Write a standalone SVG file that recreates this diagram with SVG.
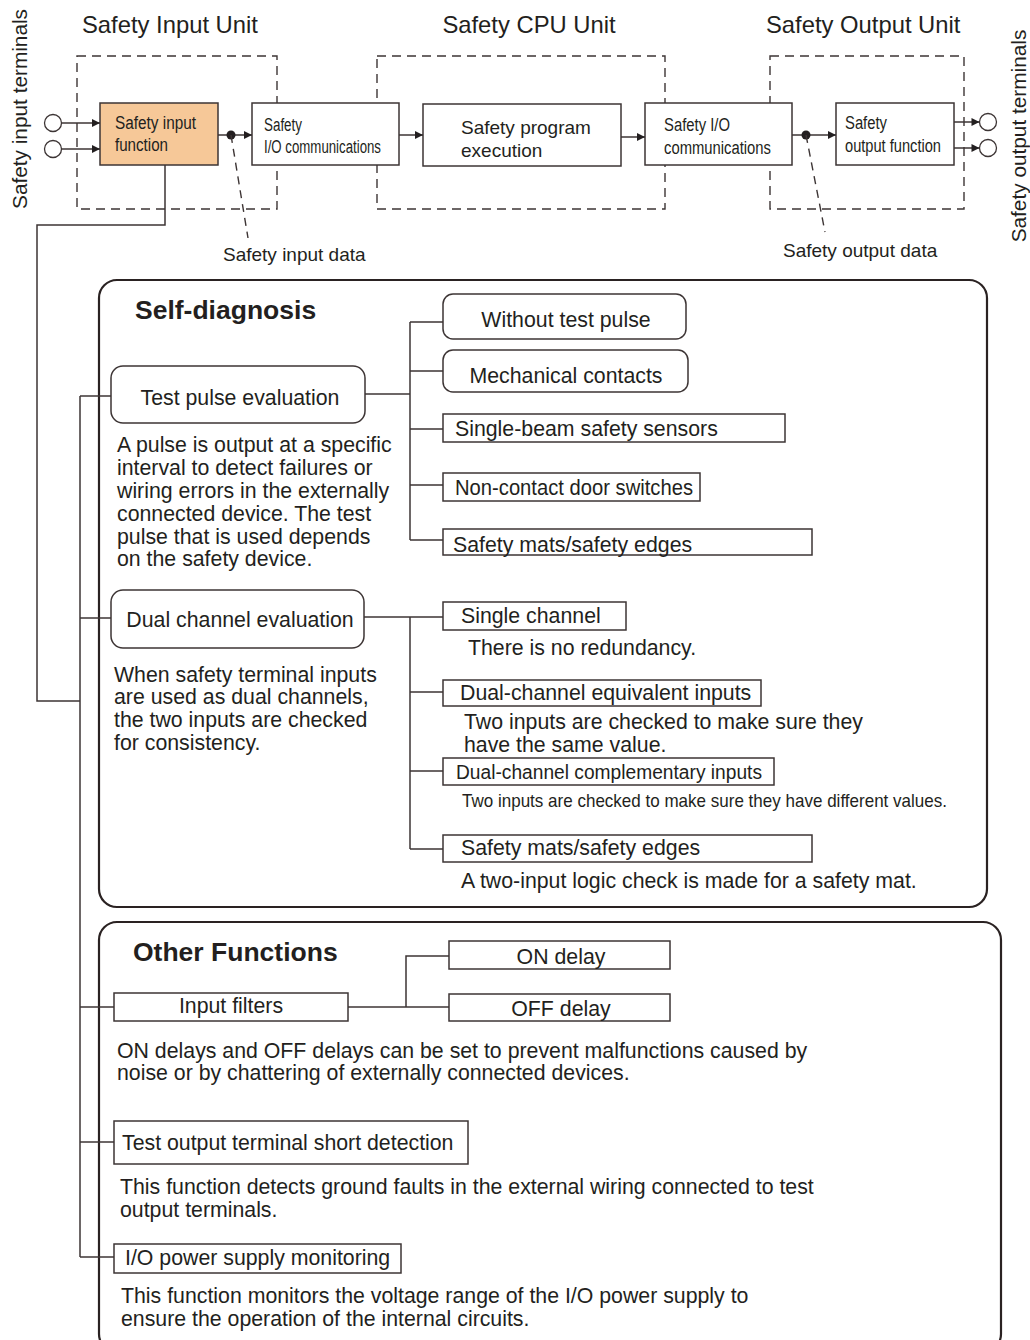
<svg xmlns="http://www.w3.org/2000/svg" width="1030" height="1340" viewBox="0 0 1030 1340">
<style>
text{font-family:"Liberation Sans",Arial,sans-serif;fill:#231f20}
.t21{font-size:21.3px}
.t19{font-size:19px}
.vt{font-size:20.8px}
.title{font-size:23.8px}
.bold{font-size:26.5px;font-weight:bold}
.nar{font-family:"Liberation Sans Narrow","Liberation Sans",sans-serif;font-size:18px}
.mid{text-anchor:middle}
.box{fill:#fff;stroke:#3d3535;stroke-width:1.5}
.peach{fill:#f6c898;stroke:#3d3535;stroke-width:1.5}
.frame{fill:none;stroke:#2a2222;stroke-width:2.2}
.dash{fill:none;stroke:#3d3535;stroke-width:1.4;stroke-dasharray:9 6}
.ln{fill:none;stroke:#3d3535;stroke-width:1.5}
.term{fill:#fff;stroke:#3d3535;stroke-width:1.3}
</style>
<defs>
<marker id="ah" viewBox="0 0 10 10" refX="10" refY="5" markerWidth="9" markerHeight="8" markerUnits="userSpaceOnUse" orient="auto">
<path d="M0,0 L10,5 L0,10 z" fill="#231f20"/>
</marker>
</defs>

<!-- unit frames -->
<g id="units">
<rect class="dash" x="77" y="56" width="200" height="153"/>
<rect class="dash" x="377" y="56" width="288" height="153"/>
<rect class="dash" x="770" y="56" width="194" height="153"/>
<text class="title" x="82" y="33">Safety Input Unit</text>
<text class="title mid" x="529" y="33">Safety CPU Unit</text>
<text class="title" x="766" y="33">Safety Output Unit</text>
<text class="vt mid" transform="translate(27,109) rotate(-90)">Safety input terminals</text>
<text class="vt mid" transform="translate(1026,136) rotate(-90)">Safety output terminals</text>
</g>

<g id="in-terminals">
<circle class="term" cx="53" cy="123" r="8.5"/>
<circle class="term" cx="53" cy="149" r="8.5"/>
</g>
<g id="out-terminals">
<circle class="term" cx="988" cy="122" r="8.5"/>
<circle class="term" cx="988" cy="148" r="8.5"/>
</g>

<g id="n-safety-input-function">
<rect class="peach" x="100" y="103" width="118" height="62"/>
<text class="nar" x="115" y="129" textLength="81" lengthAdjust="spacingAndGlyphs">Safety input</text>
<text class="nar" x="115" y="151" textLength="53" lengthAdjust="spacingAndGlyphs">function</text>
</g>
<g id="n-safety-io-comm-in">
<rect class="box" x="252" y="103" width="147" height="62"/>
<text class="nar" x="264" y="131" textLength="38" lengthAdjust="spacingAndGlyphs">Safety</text>
<text class="nar" x="264" y="153" textLength="117" lengthAdjust="spacingAndGlyphs">I/O communications</text>
</g>
<g id="n-safety-program">
<rect class="box" x="423" y="104" width="198" height="62"/>
<text class="t19" x="461" y="134">Safety program</text>
<text class="t19" x="461" y="157">execution</text>
</g>
<g id="n-safety-io-comm-cpu">
<rect class="box" x="645" y="103" width="147" height="62"/>
<text class="nar" x="664" y="131" textLength="66" lengthAdjust="spacingAndGlyphs">Safety I/O</text>
<text class="nar" x="664" y="154" textLength="107" lengthAdjust="spacingAndGlyphs">communications</text>
</g>
<g id="n-safety-output-function">
<rect class="box" x="836" y="103" width="118" height="62"/>
<text class="nar" x="845" y="129" textLength="42" lengthAdjust="spacingAndGlyphs">Safety</text>
<text class="nar" x="845" y="152" textLength="96" lengthAdjust="spacingAndGlyphs">output function</text>
</g>
<g id="data-labels">
<text class="t19" x="223" y="261">Safety input data</text>
<text class="t19" x="783" y="257">Safety output data</text>
</g>

<!-- Self-diagnosis -->
<g id="self-diagnosis">
<rect class="frame" x="99" y="280" width="888" height="627" rx="18"/>
<text class="bold" x="135" y="319">Self-diagnosis</text>
</g>
<g id="n-test-pulse">
<rect class="box" x="111" y="366" width="254" height="57" rx="12"/>
<text class="t21 mid" x="240" y="405">Test pulse evaluation</text>
<text class="t21" x="117" y="452">A pulse is output at a specific</text>
<text class="t21" x="117" y="475">interval to detect failures or</text>
<text class="t21" x="117" y="498">wiring errors in the externally</text>
<text class="t21" x="117" y="521">connected device. The test</text>
<text class="t21" x="117" y="544">pulse that is used depends</text>
<text class="t21" x="117" y="566">on the safety device.</text>
</g>
<g id="n-without-test-pulse">
<rect class="box" x="443" y="294" width="243" height="45" rx="10"/>
<text class="t21 mid" x="566" y="327">Without test pulse</text>
</g>
<g id="n-mechanical">
<rect class="box" x="443" y="350" width="245" height="42" rx="10"/>
<text class="t21 mid" x="566" y="383">Mechanical contacts</text>
</g>
<g id="n-single-beam">
<rect class="box" x="443" y="414" width="342" height="28"/>
<text class="t21" x="455" y="436">Single-beam safety sensors</text>
</g>
<g id="n-non-contact">
<rect class="box" x="443" y="473" width="257" height="28"/>
<text class="t21" x="455" y="495" textLength="238" lengthAdjust="spacingAndGlyphs">Non-contact door switches</text>
</g>
<g id="n-mats-1">
<rect class="box" x="443" y="529" width="369" height="26"/>
<text class="t21" x="453" y="552">Safety mats/safety edges</text>
</g>

<g id="n-dual-channel">
<rect class="box" x="111" y="590" width="253" height="58" rx="12"/>
<text class="t21 mid" x="240" y="627">Dual channel evaluation</text>
<text class="t21" x="114" y="682">When safety terminal inputs</text>
<text class="t21" x="114" y="704">are used as dual channels,</text>
<text class="t21" x="114" y="727">the two inputs are checked</text>
<text class="t21" x="114" y="750">for consistency.</text>
</g>
<g id="n-single-channel">
<rect class="box" x="443" y="602" width="183" height="28"/>
<text class="t21" x="461" y="623">Single channel</text>
<text class="t21" x="468" y="655">There is no redundancy.</text>
</g>
<g id="n-dual-equiv">
<rect class="box" x="443" y="680" width="318" height="26"/>
<text class="t21" x="460" y="700">Dual-channel equivalent inputs</text>
<text class="t21" x="464" y="729">Two inputs are checked to make sure they</text>
<text class="t21" x="464" y="752">have the same value.</text>
</g>
<g id="n-dual-comp">
<rect class="box" x="443" y="758" width="331" height="27"/>
<text class="nar" style="font-size:20px" x="456" y="779" textLength="306" lengthAdjust="spacingAndGlyphs">Dual-channel complementary inputs</text>
<text class="nar" style="font-size:19px" x="462" y="807" textLength="485" lengthAdjust="spacingAndGlyphs">Two inputs are checked to make sure they have different values.</text>
</g>
<g id="n-mats-2">
<rect class="box" x="443" y="835" width="369" height="27"/>
<text class="t21" x="461" y="855">Safety mats/safety edges</text>
<text class="t21" x="461" y="888">A two-input logic check is made for a safety mat.</text>
</g>

<!-- Other Functions -->
<g id="other-functions">
<rect class="frame" x="99" y="922" width="902" height="430" rx="18"/>
<text class="bold" x="133" y="961">Other Functions</text>
</g>
<g id="n-input-filters">
<rect class="box" x="114" y="993" width="234" height="28"/>
<text class="t21 mid" x="231" y="1013">Input filters</text>
<text class="t21" x="117" y="1058">ON delays and OFF delays can be set to prevent malfunctions caused by</text>
<text class="t21" x="117" y="1080">noise or by chattering of externally connected devices.</text>
</g>
<g id="n-on-delay">
<rect class="box" x="449" y="941" width="221" height="28"/>
<text class="t21 mid" x="561" y="964">ON delay</text>
</g>
<g id="n-off-delay">
<rect class="box" x="449" y="994" width="221" height="27"/>
<text class="t21 mid" x="561" y="1016">OFF delay</text>
</g>
<g id="n-test-output">
<rect class="box" x="114" y="1121" width="354" height="43"/>
<text class="t21" x="122" y="1150">Test output terminal short detection</text>
<text class="t21" x="120" y="1194">This function detects ground faults in the external wiring connected to test</text>
<text class="t21" x="120" y="1217">output terminals.</text>
</g>
<g id="n-io-power">
<rect class="box" x="114" y="1244" width="287" height="29"/>
<text class="t21" x="125" y="1265">I/O power supply monitoring</text>
<text class="t21" x="121" y="1303">This function monitors the voltage range of the I/O power supply to</text>
<text class="t21" x="121" y="1326">ensure the operation of the internal circuits.</text>
</g>

<!-- connectors -->
<g id="connectors">
<path class="ln" d="M61.5,123 H100" marker-end="url(#ah)"/>
<path class="ln" d="M61.5,149 H100" marker-end="url(#ah)"/>
<path class="ln" d="M218,135 H252" marker-end="url(#ah)"/>
<circle cx="231" cy="135" r="4.5" fill="#231f20"/>
<path class="ln" d="M399,135 H423" marker-end="url(#ah)"/>
<path class="ln" d="M621,137 H645" marker-end="url(#ah)"/>
<path class="ln" d="M792,135 H836" marker-end="url(#ah)"/>
<circle cx="806" cy="135" r="4.5" fill="#231f20"/>
<path class="ln" d="M954,122 H979.5" marker-end="url(#ah)"/>
<path class="ln" d="M954,148 H979.5" marker-end="url(#ah)"/>
<path class="dash" d="M231,135 L248,238" style="stroke-dasharray:8 6"/>
<path class="dash" d="M806,135 L825,232" style="stroke-dasharray:8 6"/>
<path class="ln" d="M165,165 V225 H37 V701 H80"/>
<path class="ln" d="M80,396 V1257"/>
<path class="ln" d="M80,396 H111"/>
<path class="ln" d="M80,618 H111"/>
<path class="ln" d="M80,1007 H114"/>
<path class="ln" d="M80,1142 H114"/>
<path class="ln" d="M80,1257 H114"/>
<path class="ln" d="M365,394 H410"/>
<path class="ln" d="M410,322 V540"/>
<path class="ln" d="M410,322 H443 M410,371 H443 M410,429 H443 M410,485 H443 M410,540 H443"/>
<path class="ln" d="M364,617 H410"/>
<path class="ln" d="M410,617 V849"/>
<path class="ln" d="M410,617 H443 M410,692 H443 M410,771 H443 M410,849 H443"/>
<path class="ln" d="M348,1007 H449"/>
<path class="ln" d="M406,1007 V956 H449"/>
</g>
</svg>
